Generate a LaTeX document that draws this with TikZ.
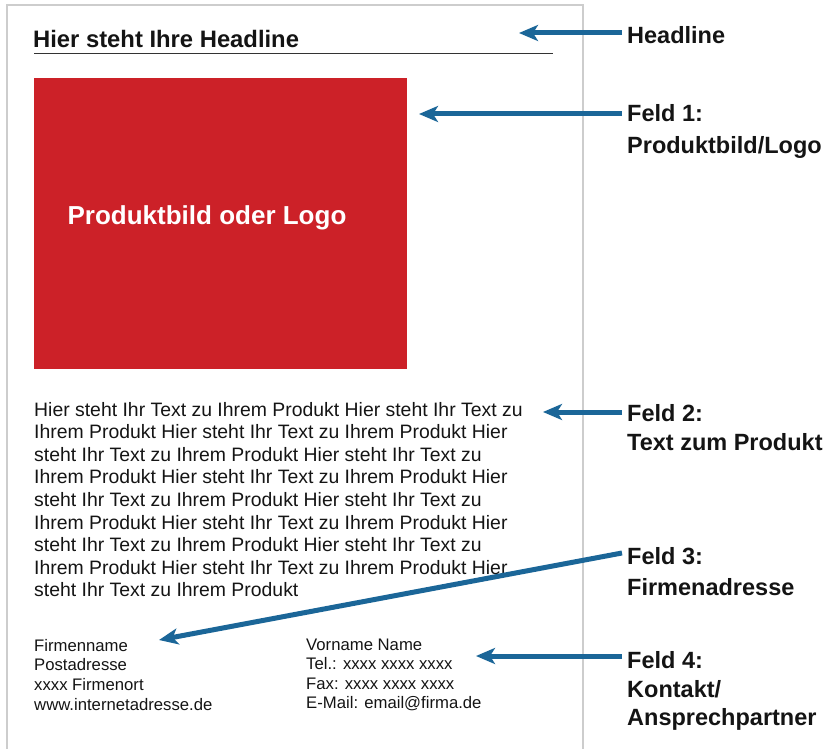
\documentclass[tikz,border=0pt]{standalone}
\usepackage{fontspec}
\setmainfont{Liberation Sans}
\usetikzlibrary{arrows.meta}
\definecolor{prodred}{RGB}{204,33,40}
\definecolor{arrblue}{RGB}{27,102,152}
\definecolor{pagegray}{RGB}{205,205,205}
\definecolor{txt}{RGB}{20,20,20}
\tikzset{
  lbl/.style={anchor=base west, inner sep=0pt, font=\fontsize{23.5}{28}\selectfont\bfseries, text=txt},
  bodyline/.style={anchor=base west, inner sep=0pt, font=\fontsize{19.4}{22}\selectfont, text=txt},
  footline/.style={anchor=base west, inner sep=0pt, font=\fontsize{16.7}{20}\selectfont, text=txt},
  pointer/.style={draw=arrblue, line width=5pt, -{Stealth[length=19pt,width=16pt,inset=5pt]}},
}
\begin{document}
\begin{tikzpicture}[x=1pt,y=-1pt]
\useasboundingbox (0,0) rectangle (839,749);
% page
\draw[pagegray, line width=1.5pt] (7,760) -- (7,5) -- (583,5) -- (583,760);
% headline
\node[anchor=base west, inner sep=0pt, font=\fontsize{23.8}{28}\selectfont\bfseries, text=txt] (head) at (33,48) {Hier steht Ihre Headline};
\coordinate (ulA) at (34,53.5);
\coordinate (ulB) at (553,53.5);
\draw[black!80, line width=1.4pt] (ulA) -- (ulB);
% red box
\node[fill=prodred, minimum width=373pt, minimum height=291pt, inner sep=0pt, anchor=north west] (box) at (34,78) {};
\node[anchor=base, inner sep=0pt, font=\fontsize{26}{30}\selectfont\bfseries, text=white] (boxtxt) at (207,225) {Produktbild oder Logo};
% body text
\node[bodyline] (b1) at (34,416) {Hier steht Ihr Text zu Ihrem Produkt Hier steht Ihr Text zu};
\node[bodyline] (b2) at (34,438.6) {Ihrem Produkt Hier steht Ihr Text zu Ihrem Produkt Hier};
\node[bodyline] (b3) at (34,461.2) {steht Ihr Text zu Ihrem Produkt Hier steht Ihr Text zu};
\node[bodyline] (b4) at (34,483.8) {Ihrem Produkt Hier steht Ihr Text zu Ihrem Produkt Hier};
\node[bodyline] (b5) at (34,506.4) {steht Ihr Text zu Ihrem Produkt Hier steht Ihr Text zu};
\node[bodyline] (b6) at (34,529.0) {Ihrem Produkt Hier steht Ihr Text zu Ihrem Produkt Hier};
\node[bodyline] (b7) at (34,551.6) {steht Ihr Text zu Ihrem Produkt Hier steht Ihr Text zu};
\node[bodyline] (b8) at (34,574.2) {Ihrem Produkt Hier steht Ihr Text zu Ihrem Produkt Hier};
\node[bodyline] (b9) at (34,596.8) {steht Ihr Text zu Ihrem Produkt};
% footer left
\node[footline] (f1) at (34,651) {Firmenname};
\node[footline] (f2) at (34,670.8) {Postadresse};
\node[footline] (f3) at (34,690.6) {xxxx Firmenort};
\node[footline] (f4) at (34,710.4) {www.internetadresse.de};
% footer right
\node[footline] (k1) at (306,650) {Vorname Name};
\node[footline] (k2) at (306,669.5) {Tel.: xxxx xxxx xxxx};
\node[footline] (k3) at (306,689) {Fax: xxxx xxxx xxxx};
\node[footline] (k4) at (306,708.5) {E-Mail: email@firma.de};
% labels
\node[lbl] (lh) at (627,43.5) {Headline};
\node[lbl] (l1a) at (627,121.5) {Feld 1:};
\node[lbl] (l1b) at (627,153.5) {Produktbild/Logo};
\node[lbl] (l2a) at (627,421.5) {Feld 2:};
\node[lbl] (l2b) at (627,450.5) {Text zum Produkt};
\node[lbl] (l3a) at (627,564.5) {Feld 3:};
\node[lbl] (l3b) at (627,595.5) {Firmenadresse};
\node[lbl] (l4a) at (627,668.5) {Feld 4:};
\node[lbl] (l4b) at (627,697.5) {Kontakt/};
\node[lbl] (l4c) at (627,725.5) {Ansprechpartner};
% arrows
\coordinate (sh) at (622,33);
\coordinate (th) at (519,33);
\coordinate (s1) at (622,114);
\coordinate (t1) at (419,114);
\coordinate (s2) at (622,412);
\coordinate (t2) at (543,412);
\coordinate (s3) at (622,553);
\coordinate (t3) at (159,640);
\coordinate (s4) at (622,656);
\coordinate (t4) at (476,656);
\draw[pointer] (sh) -- (th);
\draw[pointer] (s1) -- (t1);
\draw[pointer] (s2) -- (t2);
\draw[pointer] (s3) -- (t3);
\draw[pointer] (s4) -- (t4);
\end{tikzpicture}
\end{document}
